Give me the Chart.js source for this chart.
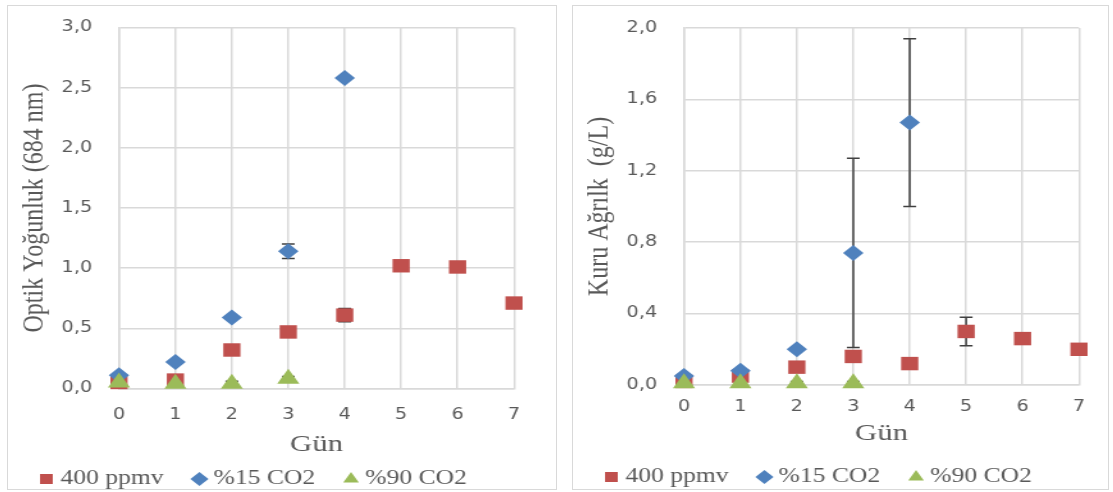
<!DOCTYPE html>
<html>
<head>
<meta charset="utf-8">
<script src="https://cdn.jsdelivr.net/npm/chart.js@4.4.1/dist/chart.umd.min.js"></script>
<style>
  html, body { margin: 0; padding: 0; background: #fff; }
  body { width: 1113px; height: 492px; position: relative; overflow: hidden; }
  .box { position: absolute; top: 5px; height: 485px; border: 1px solid #d9d9d9; box-sizing: border-box; overflow: hidden; background: #fff; }
  .stretch { transform: scaleX(1.28); transform-origin: 0 0; }
  canvas { display: block; }
</style>
</head>
<body>
<div class="box" style="left:7px;width:550px"><div class="stretch"><canvas id="odChart" width="428" height="483"></canvas></div></div>
<div class="box" style="left:572px;width:537px"><div class="stretch"><canvas id="dwChart" width="418" height="483"></canvas></div></div>
<script>
// Gün (days) on the x axis
const days = [0, 1, 2, 3, 4, 5, 6, 7];
const seriesLabels = ["400 ppmv", "%15 CO2", "%90 CO2"];

// Optik Yoğunluk (684 nm)
const od400 = [0.05, 0.07, 0.32, 0.47, 0.61, 1.02, 1.01, 0.71];
const od400Err = [0.01, 0.01, 0.01, 0.01, 0.055, 0.01, 0.01, 0.01];
const od15 = [0.11, 0.22, 0.59, 1.14, 2.58];
const od15Err = [0.01, 0.01, 0.01, 0.06, 0.01];
const od90 = [0.05, 0.04, 0.04, 0.08];
const od90Err = [0.01, 0.01, 0.02, 0.02];

// Kuru Ağırlık (g/L)
const dw400 = [0.02, 0.05, 0.10, 0.16, 0.12, 0.30, 0.26, 0.20];
const dw400Err = [0.01, 0.01, 0.01, 0.01, 0.01, 0.08, 0.01, 0.01];
const dw15 = [0.05, 0.08, 0.20, 0.74, 1.47];
const dw15Err = [0.01, 0.01, 0.01, 0.53, 0.47];
const dw90 = [0.01, 0.01, 0.01, 0.01];
const dw90Err = [0.01, 0.01, 0.01, 0.01];

const serif = "'Liberation Serif', 'Times New Roman', serif";
const sans = "'DejaVu Sans', sans-serif";
const textGray = "#595959";
const gridGray = "#d9d9d9";

const toPoints = (vals) => vals.map((v, i) => ({ x: days[i], y: v }));

// error bars, drawn under the markers
const errorBarPlugin = {
  id: "errorBars",
  beforeDatasetsDraw(chart) {
    const { ctx } = chart;
    const xs = chart.scales.x;
    const ys = chart.scales.y;
    ctx.save();
    ctx.strokeStyle = "#404040";
    ctx.lineWidth = 1.5;
    chart.data.datasets.forEach((ds) => {
      if (!ds.errorBars) return;
      ds.data.forEach((pt, i) => {
        const e = ds.errorBars[i];
        if (!e) return;
        const px = xs.getPixelForValue(pt.x);
        const top = ys.getPixelForValue(pt.y + e);
        const bot = ys.getPixelForValue(Math.max(pt.y - e, 0));
        ctx.beginPath();
        ctx.moveTo(px, top);
        ctx.lineTo(px, bot);
        ctx.moveTo(px - 5, top);
        ctx.lineTo(px + 5, top);
        ctx.moveTo(px - 5, bot);
        ctx.lineTo(px + 5, bot);
        ctx.stroke();
      });
    });
    ctx.restore();
  },
};

// pull the legend closer to the bottom edge
const legendCut = (px) => ({
  id: "legendCut",
  beforeInit(chart) {
    const fit = chart.legend.fit;
    chart.legend.fit = function () {
      fit.call(this);
      this.height -= px;
    };
  },
});

const makeChart = (id, o) =>
  new Chart(document.getElementById(id), {
    type: "scatter",
    data: {
      datasets: [
        {
          label: seriesLabels[0],
          data: toPoints(o.a),
          errorBars: o.aErr,
          pointStyle: "rect",
          pointRadius: 9.5,
          pointHoverRadius: 9.5,
          backgroundColor: "#C0504D",
          borderColor: "#C0504D",
          borderWidth: 0,
          clip: false,
          order: 2,
        },
        {
          label: seriesLabels[1],
          data: toPoints(o.b),
          errorBars: o.bErr,
          pointStyle: "rectRot",
          pointRadius: 8,
          pointHoverRadius: 8,
          backgroundColor: "#4F81BD",
          borderColor: "#4F81BD",
          borderWidth: 0,
          clip: false,
          order: 1,
        },
        {
          label: seriesLabels[2],
          data: toPoints(o.c),
          errorBars: o.cErr,
          pointStyle: "triangle",
          pointRadius: 10,
          pointHoverRadius: 10,
          backgroundColor: "#9BBB59",
          borderColor: "#9BBB59",
          borderWidth: 0,
          clip: false,
          order: 0,
        },
      ],
    },
    options: {
      responsive: false,
      animation: false,
      layout: { padding: { top: o.top, left: 2, right: o.right, bottom: 0 } },
      plugins: {
        legend: {
          position: "bottom",
          align: "start",
          labels: {
            usePointStyle: true,
            boxWidth: 2,
            boxHeight: 10,
            padding: 27,
            color: textGray,
            font: { family: serif, size: 20 },
            sort: (a, b) => a.datasetIndex - b.datasetIndex,
          },
        },
        tooltip: { enabled: false },
      },
      scales: {
        x: {
          type: "linear",
          min: 0,
          max: 7,
          afterFit: (s) => { s.height = o.xH; },
          ticks: { stepSize: 1, padding: o.xPad, color: textGray, font: { family: sans, size: 15 } },
          grid: { color: gridGray, lineWidth: 1.5, drawTicks: false },
          border: { color: gridGray, width: 1.5 },
          title: {
            display: true,
            text: "Gün",
            color: textGray,
            font: { family: serif, size: 24 },
            padding: { top: 0, bottom: o.titlePad },
          },
        },
        y: {
          min: 0,
          max: o.yMax,
          afterFit: (s) => { s.width = 84.7; },
          ticks: {
            stepSize: o.yStep,
            padding: 0,
            color: textGray,
            font: { family: sans, size: 15 },
            callback: (v) => v.toFixed(1).replace(".", ","),
          },
          // invisible tick marks keep the labels away from the plot
          grid: { color: gridGray, lineWidth: 1.5, drawTicks: true, tickLength: 21, tickColor: "rgba(0,0,0,0)" },
          border: { color: gridGray, width: 1.5 },
          title: {
            display: true,
            text: o.yTitle,
            color: textGray,
            font: { family: serif, size: 24 },
            padding: { top: 4, bottom: 0 },
          },
        },
      },
    },
    plugins: [errorBarPlugin, legendCut(o.cut)],
  });

makeChart("odChart", {
  a: od400, aErr: od400Err,
  b: od15, bErr: od15Err,
  c: od90, cErr: od90Err,
  yMax: 3, yStep: 0.5,
  yTitle: "Optik Yoğunluk (684 nm)",
  top: 21.5, right: 32.7,
  xH: 53.5, xPad: 17.5, titlePad: -17.4, cut: 10,
});

makeChart("dwChart", {
  a: dw400, aErr: dw400Err,
  b: dw15, bErr: dw15Err,
  c: dw90, cErr: dw90Err,
  yMax: 2, yStep: 0.4,
  yTitle: "Kuru Ağrılk  (g/L)",
  top: 22, right: 22.7,
  xH: 55, xPad: 13, titlePad: -8.4, cut: 8,
});
</script>
</body>
</html>
